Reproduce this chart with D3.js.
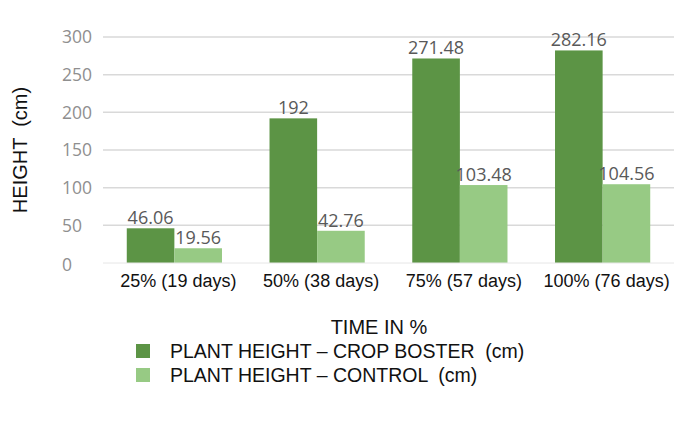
<!DOCTYPE html>
<html>
<head>
<meta charset="utf-8">
<script src="https://cdn.jsdelivr.net/npm/d3@7"></script>
<style>
  html, body { margin: 0; padding: 0; background: #fff; }
  svg { display: block; }
  text { white-space: pre; }
</style>
</head>
<body>
<svg id="chart" width="681" height="424"></svg>
<script>
const categories = ["25% (19 days)", "50% (38 days)", "75% (57 days)", "100% (76 days)"];
const seriesNames = ["PLANT HEIGHT \u2013 CROP BOSTER  (cm)", "PLANT HEIGHT \u2013 CONTROL  (cm)"];
const boosterValues = [46.06, 192, 271.48, 282.16];
const controlValues = [19.56, 42.76, 103.48, 104.56];
const boosterLabels = ["46.06", "192", "271.48", "282.16"];
const controlLabels = ["19.56", "42.76", "103.48", "104.56"];
const yTicks = [0, 50, 100, 150, 200, 250, 300];
const colors = ["#5c9445", "#97ca84"];

const svg = d3.select("#chart");
const x0 = d3.scaleBand().domain(categories).range([103, 674]).paddingInner(0.333).paddingOuter(0.1665);
const x1 = d3.scaleBand().domain([0, 1]).range([0, x0.bandwidth()]);
const y = d3.scaleLinear().domain([0, 300]).range([263, 37]);

// gridlines
svg.append("g").selectAll("line").data(yTicks.filter(d => d > 0)).join("line")
  .attr("x1", 103).attr("x2", 674)
  .attr("y1", d => y(d)).attr("y2", d => y(d))
  .attr("stroke", "#d9d9d9").attr("stroke-width", 1.5);

// y tick labels
svg.append("g").selectAll("text").data(yTicks).join("text")
  .attr("x", 62).attr("y", d => y(d) + (d === 0 ? 2 : 0))
  .attr("dy", "0.36em")
  .attr("font-family", "'Open Sans', sans-serif")
  .attr("font-size", 17.5)
  .attr("fill", "#8f8f8f")
  .text(d => d);

const series = [boosterValues, controlValues];
const labels = [boosterLabels, controlLabels];

series.forEach((vals, si) => {
  const g = svg.append("g");
  g.selectAll("rect").data(vals).join("rect")
    .attr("x", (d, i) => x0(categories[i]) + x1(si))
    .attr("width", x1.bandwidth())
    .attr("y", d => y(d))
    .attr("height", d => y(0) - y(d))
    .attr("fill", colors[si]);
  g.selectAll("text").data(vals).join("text")
    .attr("x", (d, i) => x0(categories[i]) + x1(si) + x1.bandwidth() / 2)
    .attr("y", d => y(d) - 4)
    .attr("text-anchor", "middle")
    .attr("font-family", "'Open Sans', sans-serif")
    .attr("font-size", 18)
    .attr("fill", "#595959")
    .text((d, i) => labels[si][i]);
});

// baseline
svg.append("line").attr("x1", 103).attr("x2", 674).attr("y1", y(0)).attr("y2", y(0))
  .attr("stroke", "#e6e6e6").attr("stroke-width", 1);

// x category labels
svg.append("g").selectAll("text").data(categories).join("text")
  .attr("x", d => x0(d) + x0.bandwidth() / 2 + 4)
  .attr("y", 287)
  .attr("text-anchor", "middle")
  .attr("font-family", "'Liberation Sans', Arial, sans-serif")
  .attr("font-size", 18)
  .attr("fill", "#111")
  .text(d => d);

// axis titles
svg.append("text")
  .attr("x", 379).attr("y", 334)
  .attr("text-anchor", "middle")
  .attr("font-family", "'Liberation Sans', Arial, sans-serif")
  .attr("font-size", 20)
  .attr("fill", "#111")
  .text("TIME IN %");

svg.append("text")
  .attr("transform", "translate(27,150) rotate(-90)")
  .attr("text-anchor", "middle")
  .attr("font-family", "'Liberation Sans', Arial, sans-serif")
  .attr("font-size", 20)
  .attr("fill", "#111")
  .text("HEIGHT  (cm)");

// legend
const leg = svg.append("g").selectAll("g").data(seriesNames).join("g")
  .attr("transform", (d, i) => `translate(136, ${344 + i * 24})`);
leg.append("rect").attr("width", 14).attr("height", 14).attr("fill", (d, i) => colors[i]);
leg.append("text")
  .attr("x", 34).attr("y", 7).attr("dy", "0.36em")
  .attr("font-family", "'Liberation Sans', Arial, sans-serif")
  .attr("font-size", 19.5)
  .attr("fill", "#111")
  .text(d => d);
</script>
</body>
</html>
